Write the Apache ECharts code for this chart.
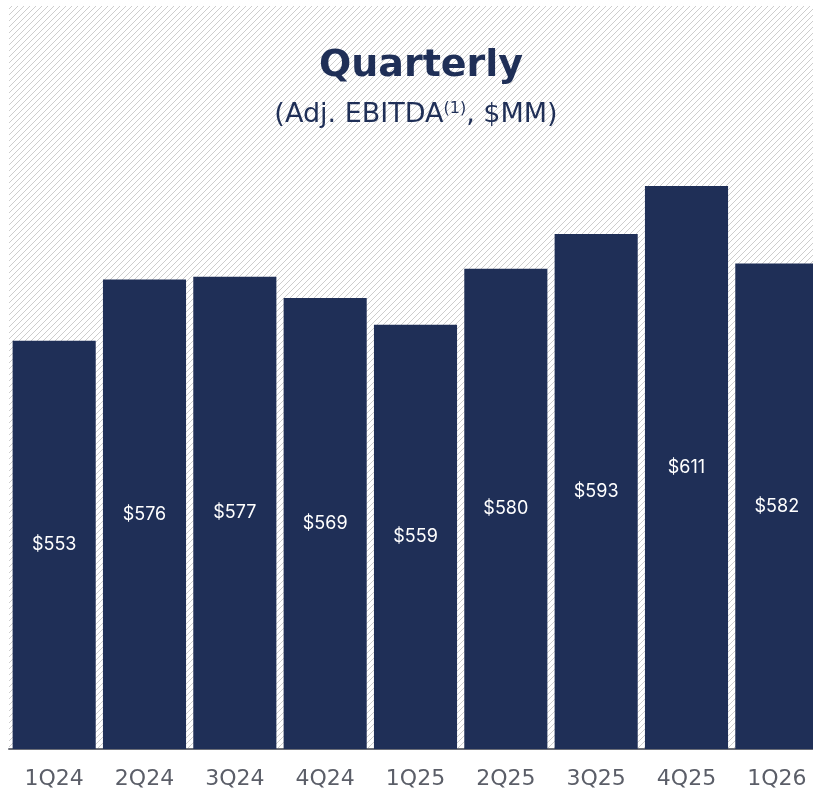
<!DOCTYPE html>
<html>
<head>
<meta charset="utf-8">
<script src="https://cdn.jsdelivr.net/npm/echarts@6/dist/echarts.min.js"></script>
<style>
html, body { margin: 0; padding: 0; background: #fff; }
#chart { width: 813px; height: 794px; }
</style>
</head>
<body>
<div id="chart"></div>
<script>
var quarters = ['1Q24', '2Q24', '3Q24', '4Q24', '1Q25', '2Q25', '3Q25', '4Q25', '1Q26'];
var ebitda = [553, 576, 577, 569, 559, 580, 593, 611, 582];

// diagonal pixel hatch for the background panel
var hatch = document.createElement('canvas');
hatch.width = 6;
hatch.height = 6;
var hctx = hatch.getContext('2d');
hctx.fillStyle = '#ffffff';
hctx.fillRect(0, 0, 6, 6);
hctx.fillStyle = '#cdcdcd';
for (var i = 0; i < 6; i++) {
    hctx.fillRect(i, 5 - i, 1, 1);
}

var chart = echarts.init(document.getElementById('chart'));
var navy = '#1f2f57';

chart.setOption({
    animation: false,
    graphic: [{
        type: 'rect',
        z: -10,
        shape: { x: 9, y: 6, width: 810, height: 743 },
        style: { fill: { image: hatch, repeat: 'repeat' } }
    }],
    title: [{
        text: 'Quarterly',
        left: 416,
        top: 42,
        textAlign: 'center',
        textStyle: {
            fontFamily: 'DejaVu Sans',
            fontWeight: 'bold',
            fontSize: 38,
            color: navy
        }
    }, {
        text: '(Adj. EBITDA{sup|(1)}, $MM)',
        left: 411,
        top: 96,
        textAlign: 'center',
        textStyle: {
            fontFamily: 'DejaVu Sans',
            fontWeight: 'normal',
            fontSize: 27,
            color: navy,
            rich: {
                sup: { fontFamily: 'DejaVu Sans', fontSize: 16, color: navy, verticalAlign: 'top', padding: [0, 0, 12, 0] }
            }
        }
    }],
    grid: { left: 9, top: 82, width: 813, bottom: 45, outerBoundsMode: 'none' },
    xAxis: {
        type: 'category',
        data: quarters,
        axisLine: { lineStyle: { color: '#6b6e77', width: 2 } },
        axisTick: { show: false },
        axisLabel: {
            fontFamily: 'DejaVu Sans',
            fontSize: 22,
            color: '#5b5e68',
            margin: 19
        }
    },
    yAxis: {
        type: 'value',
        min: 400,
        max: 650,
        interval: 50,
        show: false,
        splitLine: { show: false }
    },
    series: [{
        type: 'bar',
        data: ebitda,
        barCategoryGap: '8%',
        itemStyle: { color: navy },
        label: {
            show: true,
            position: 'inside',
            formatter: function (p) { return '$' + p.value; },
            fontFamily: 'Inter',
            fontSize: 18,
            color: '#ffffff'
        }
    }]
});
</script>
</body>
</html>
